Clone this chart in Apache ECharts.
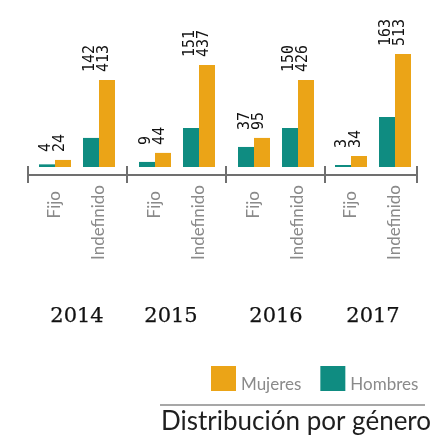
<!DOCTYPE html>
<html>
<head>
<meta charset="utf-8">
<script src="https://cdn.jsdelivr.net/npm/echarts@6/dist/echarts.min.js"></script>
<style>
  html, body { margin: 0; padding: 0; background: #fff; }
  #chart { width: 432px; height: 436px; }
</style>
</head>
<body>
<div id="chart"></div>
<script>
const years = ["2014", "2015", "2016", "2017"];
const contracts = ["Fijo", "Indefinido"];
// numbers printed above each pair [Fijo, Indefinido]
const hombresLabel = [[4, 142], [9, 151], [37, 150], [3, 163]];
const mujeresLabel = [[24, 413], [44, 437], [95, 426], [34, 513]];
// bar lengths as drawn in the picture (same scale as the printed 513)
const hombresBar = [[12, 132], [23, 177], [91, 177], [9, 227]];
const mujeresBar = [[32, 395], [64, 463], [132, 395], [50, 513]];
// ticks of the bottom rule
const ruleMax = 389;
const ruleStep = 99;

const teal = "#0F8C81";
const orange = "#EBA417";
const gridLefts = [33, 133, 232, 329];

const grids = [], xAxes = [], yAxes = [], series = [];

years.forEach(function (year, i) {
  grids.push({ left: gridLefts[i], width: 88, top: 54, bottom: 269 });
  xAxes.push({
    type: "category",
    gridIndex: i,
    data: contracts,
    axisLine: { show: false },
    axisTick: { show: false },
    axisLabel: {
      rotate: 90,
      margin: 18,
      color: "#8a8a8a",
      fontFamily: "Lato",
      fontSize: 17,
      formatter: function (v) { return v === "Fijo" ? "{f|" + v + "}" : v; },
      rich: { f: { padding: [0, 6, 0, 0], color: "#8a8a8a", fontFamily: "Lato", fontSize: 17 } }
    },
    name: year,
    nameLocation: "middle",
    nameGap: 139,
    nameTextStyle: {
      fontFamily: "DejaVu Serif",
      fontSize: 21,
      color: "#111",
      textBorderColor: "#111",
      textBorderWidth: 0.25,
      padding: i === 1 ? [0, 12, 0, 0] : 0
    }
  });
  yAxes.push({ type: "value", gridIndex: i, min: 0, max: 513, show: false });

  series.push({
    name: "Hombres",
    type: "bar",
    xAxisIndex: i,
    yAxisIndex: i,
    barWidth: 16,
    barGap: 0,
    itemStyle: { color: teal },
    data: hombresBar[i]
  });
  series.push({
    name: "Mujeres",
    type: "bar",
    xAxisIndex: i,
    yAxisIndex: i,
    barWidth: 16,
    barGap: 0,
    itemStyle: { color: orange },
    label: {
      show: true,
      position: "top",
      rotate: 90,
      align: "left",
      verticalAlign: "middle",
      distance: 8,
      offset: [0, -10],
      fontFamily: "DejaVu Sans Mono",
      fontSize: 15,
      lineHeight: 14,
      color: "#111",
      formatter: function (p) {
        return hombresLabel[i][p.dataIndex] + "\n" + mujeresLabel[i][p.dataIndex];
      }
    },
    data: mujeresBar[i]
  });
});

// bottom rule with ticks crossing it
grids.push({ left: 28, right: 15, top: 174, height: 1 });
const ruleAxis = {
  type: "value",
  gridIndex: 4,
  position: "top",
  min: 0,
  max: ruleMax,
  interval: ruleStep,
  axisLabel: { show: false },
  splitLine: { show: false }
};
xAxes.push(Object.assign({}, ruleAxis, {
  axisLine: { show: true, lineStyle: { color: "#707070", width: 2 } },
  axisTick: { show: true, length: 9, inside: false, lineStyle: { color: "#707070", width: 2 } }
}));
xAxes.push(Object.assign({}, ruleAxis, {
  axisLine: { show: false },
  axisTick: { show: true, length: 9, inside: true, lineStyle: { color: "#707070", width: 2 } }
}));
yAxes.push({ type: "value", gridIndex: 4, min: 0, max: 1, show: false });

const chart = echarts.init(document.getElementById("chart"));
chart.setOption({
  animation: false,
  grid: grids,
  xAxis: xAxes,
  yAxis: yAxes,
  legend: {
    data: ["Mujeres", "Hombres"],
    left: 211,
    top: 366,
    padding: 0,
    itemWidth: 25,
    itemHeight: 25,
    itemGap: 19,
    icon: "rect",
    formatter: function (name) { return "{a|" + name + "}"; },
    textStyle: {
      rich: {
        a: { fontFamily: "Lato", fontSize: 17, color: "#8a8a8a", padding: [13, 0, 0, 0] }
      }
    }
  },
  title: {
    text: "Distribución por género",
    left: 161,
    top: 409,
    padding: 0,
    textStyle: { fontFamily: "Lato", fontSize: 26, fontWeight: "normal", color: "#1f1f1f" }
  },
  graphic: [{
    type: "line",
    shape: { x1: 160, y1: 405, x2: 425, y2: 405 },
    style: { stroke: "#8a8a8a", lineWidth: 1.5 }
  }],
  series: series
});
</script>
</body>
</html>
